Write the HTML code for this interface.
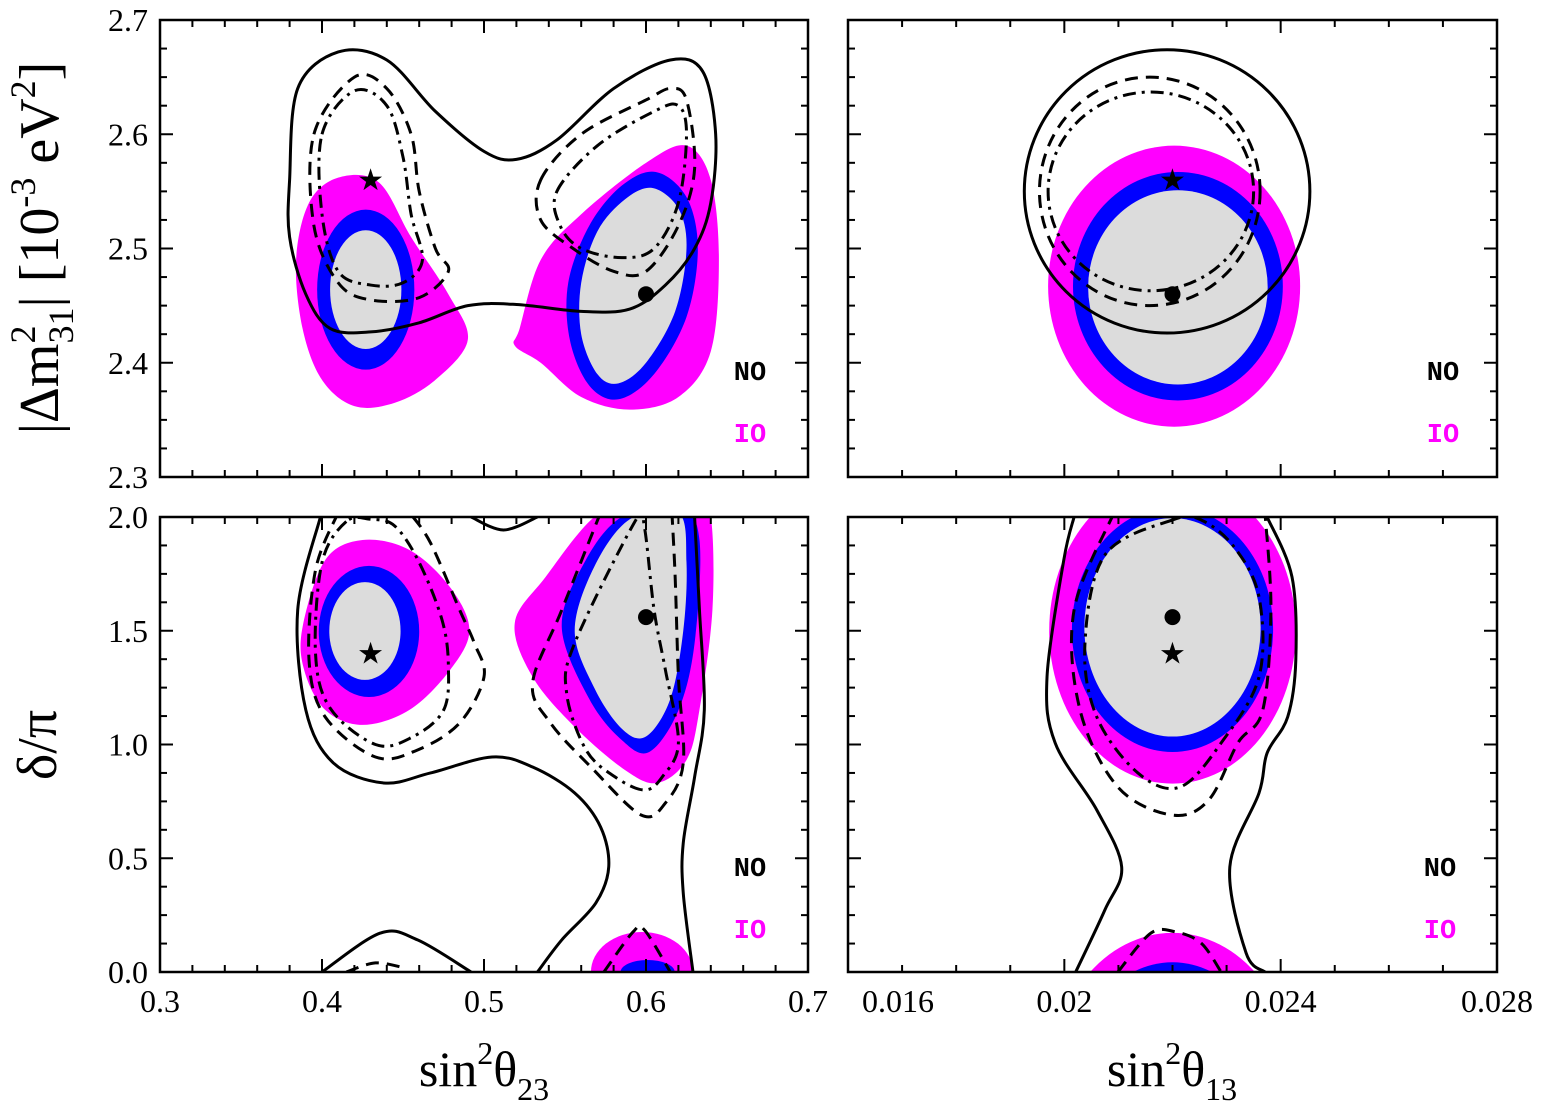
<!DOCTYPE html>
<html><head><meta charset="utf-8"><style>
html,body{margin:0;padding:0;background:#fff;overflow:hidden;width:1547px;height:1120px;}
svg{display:block;font-family:"Liberation Serif",serif;}
.lab{font-family:"Liberation Mono",monospace;font-weight:bold;font-size:27px;}
</style></head><body>
<svg id="chart" width="1547" height="1120" viewBox="0 0 1547 1120" xmlns="http://www.w3.org/2000/svg" overflow="hidden">
<g id="layer"></g>
<text transform="translate(58,248) rotate(-90)" text-anchor="middle" font-size="56">|Δm<tspan font-size="36" dy="-23">2</tspan><tspan font-size="36" dy="38" dx="-18">31</tspan><tspan dy="-15">| [10</tspan><tspan font-size="36" dy="-23">-3</tspan><tspan dy="23"> eV</tspan><tspan font-size="36" dy="-23">2</tspan><tspan dy="23">]</tspan></text>
<text transform="translate(56,745) rotate(-90)" text-anchor="middle" font-size="56">δ/π</text>
<text x="484" y="1086" text-anchor="middle" font-size="50">sin<tspan font-size="32" dy="-22">2</tspan><tspan dy="22">θ</tspan><tspan font-size="32" dy="14">23</tspan></text>
<text x="1172" y="1086" text-anchor="middle" font-size="50">sin<tspan font-size="32" dy="-22">2</tspan><tspan dy="22">θ</tspan><tspan font-size="32" dy="14">13</tspan></text>
</svg>
<script>
// ---- data (all in data units) ----
const tlMagL=[[0.392,2.54],[0.41,2.562],[0.435,2.558],[0.455,2.51],[0.478,2.46],[0.49,2.42],[0.47,2.385],[0.445,2.365],[0.42,2.362],[0.4,2.385],[0.388,2.43],[0.384,2.49]];
const tlBlueL=[0.427,2.464,0.030,0.070];
const tlGrayL=[0.427,2.464,0.022,0.052];
const tlMagR=[[0.522,2.43],[0.535,2.49],[0.56,2.53],[0.6,2.575],[0.625,2.59],[0.64,2.56],[0.645,2.49],[0.64,2.41],[0.62,2.37],[0.59,2.359],[0.56,2.37],[0.535,2.4],[0.519,2.415]];
const tlBlueR=[[0.606,2.567],[0.625,2.545],[0.632,2.5],[0.625,2.44],[0.605,2.39],[0.583,2.368],[0.565,2.38],[0.553,2.42],[0.552,2.47],[0.565,2.52],[0.585,2.555]];
const tlGrayR=[[0.604,2.553],[0.62,2.535],[0.625,2.5],[0.618,2.445],[0.6,2.4],[0.583,2.382],[0.57,2.39],[0.56,2.425],[0.56,2.47],[0.57,2.515],[0.587,2.543]];
const tlSolid=[[0.38,2.56],[0.385,2.64],[0.41,2.672],[0.44,2.665],[0.47,2.62],[0.5,2.585],[0.52,2.578],[0.545,2.595],[0.58,2.64],[0.615,2.665],[0.635,2.655],[0.643,2.6],[0.64,2.54],[0.63,2.5],[0.612,2.468],[0.59,2.447],[0.56,2.445],[0.52,2.451],[0.49,2.45],[0.46,2.435],[0.43,2.427],[0.405,2.43],[0.39,2.46],[0.38,2.51]];
const tlDashL=[[0.395,2.6],[0.42,2.65],[0.44,2.64],[0.455,2.6],[0.46,2.55],[0.47,2.5],[0.478,2.48],[0.46,2.457],[0.43,2.455],[0.41,2.47],[0.395,2.52]];
const tlDotL=[[0.4,2.6],[0.42,2.638],[0.44,2.625],[0.45,2.58],[0.455,2.53],[0.462,2.49],[0.45,2.47],[0.43,2.468],[0.41,2.48],[0.4,2.53]];
const tlDashR=[[0.535,2.56],[0.56,2.6],[0.6,2.63],[0.615,2.64],[0.625,2.63],[0.63,2.57],[0.62,2.52],[0.6,2.48],[0.58,2.48],[0.555,2.5],[0.535,2.525]];
const tlDotR=[[0.545,2.55],[0.57,2.59],[0.605,2.62],[0.62,2.625],[0.625,2.6],[0.62,2.54],[0.605,2.5],[0.585,2.492],[0.56,2.5],[0.547,2.52]];
const tlStar=[0.43,2.56], tlBest=[0.6,2.46];

const trMag=[0.02203,2.467,0.00233,0.123];
const trBlue=[0.0221,2.467,0.00194,0.1];
const trGray=[0.0221,2.466,0.00166,0.085];
const trSolid=[0.0219,2.55,0.00264,0.124];
const trDash=[0.02158,2.55,0.00204,0.1];
const trDot=[0.0216,2.55,0.0019,0.087];
const trStar=[0.022,2.56], trBest=[0.022,2.46];

const blMagL=[[0.388,1.516],[0.402,1.811],[0.425,1.899],[0.454,1.855],[0.479,1.692],[0.491,1.503],[0.479,1.327],[0.454,1.152],[0.425,1.086],[0.402,1.152],[0.389,1.327]];
const blBlueL=[0.429,1.497,0.031,0.288];
const blGrayL=[0.4265,1.499,0.022,0.215];
const blMagR=[[0.519,1.534],[0.538,1.736],[0.568,2.0],[0.6,2.12],[0.63,2.1],[0.64,2.0],[0.641,1.591],[0.633,1.152],[0.625,0.932],[0.607,0.831],[0.587,0.888],[0.556,1.077],[0.530,1.297]];
const blBlueR=[[0.548,1.516],[0.562,1.8],[0.585,2.0],[0.62,2.05],[0.633,1.9],[0.63,1.446],[0.62,1.15],[0.602,0.967],[0.585,1.02],[0.565,1.2]];
const blGrayR=[[0.556,1.5],[0.568,1.78],[0.59,1.99],[0.62,2.02],[0.625,1.8],[0.623,1.5],[0.615,1.2],[0.6,1.035],[0.585,1.07],[0.568,1.25]];
const blMagB=[0.5975,0,0.0315,0.176];
const blBlueB=[0.601,0,0.0167,0.053];
const blSolidA=[[0.399,2.0],[0.385,1.591],[0.390,1.152],[0.407,0.919],[0.438,0.831],[0.467,0.875],[0.505,0.945],[0.530,0.901],[0.556,0.787],[0.572,0.637],[0.577,0.462],[0.569,0.303],[0.548,0.141],[0.533,0]];
const blSolidB=[[0.630,2.0],[0.633,1.591],[0.636,1.152],[0.630,0.857],[0.623,0.567],[0.623,0.347],[0.629,0]];
const blSolidC=[[0.492,2.0],[0.512,1.943],[0.533,2.0]];
const blSolidD=[[0.4,0],[0.436,0.171],[0.459,0.141],[0.492,0]];
const blDashD=[[0.415,0],[0.433,0.04],[0.451,0.018]];
const blDashL=[[0.41,2.02],[0.396,1.767],[0.392,1.371],[0.402,1.121],[0.433,0.945],[0.459,0.976],[0.485,1.095],[0.5,1.297],[0.494,1.446],[0.485,1.591],[0.467,1.886],[0.454,2.02]];
const blDotL=[[0.415,1.98],[0.4,1.8],[0.396,1.4],[0.405,1.16],[0.433,1.0],[0.455,1.03],[0.475,1.15],[0.478,1.35],[0.474,1.55],[0.46,1.8],[0.445,1.96],[0.43,1.99]];
const blDashR=[[0.572,2.02],[0.548,1.591],[0.530,1.27],[0.541,1.095],[0.566,0.901],[0.597,0.69],[0.612,0.743],[0.623,0.919],[0.620,1.297],[0.618,1.736],[0.616,2.02]];
const blDotR=[[0.594,1.99],[0.556,1.446],[0.551,1.226],[0.563,0.976],[0.581,0.857],[0.599,0.8],[0.610,0.857],[0.620,1.007],[0.612,1.327],[0.605,1.591],[0.599,1.956]];
const blDashB=[[0.574,0],[0.592,0.176],[0.599,0.185],[0.615,0]];
const blStar=[0.43,1.4], blBest=[0.6,1.56];

const brMag=[0.022,1.50,0.00228,0.672];
const brBlue=[0.022,1.505,0.00186,0.538];
const brGray=[0.022,1.515,0.00163,0.48];
const brSolidL=[[0.02018,2.0],[0.01999,1.811],[0.01968,1.297],[0.01983,1.007],[0.0206,0.712],[0.02106,0.462],[0.02075,0.273],[0.02021,0]];
const brSolidR=[[0.02375,2.0],[0.02421,1.736],[0.02428,1.371],[0.02413,1.121],[0.02375,0.963],[0.0236,0.787],[0.02306,0.462],[0.02336,0.084],[0.02371,0]];
const brDash=[[0.02092,2.02],[0.02018,1.591],[0.02029,1.152],[0.02099,0.813],[0.02199,0.69],[0.02267,0.756],[0.02321,1.007],[0.02367,1.152],[0.02382,1.591],[0.02371,2.02]];
const brDot=[[0.022,1.987],[0.02075,1.833],[0.02038,1.437],[0.0206,1.121],[0.02136,0.875],[0.02214,0.813],[0.0229,1.007],[0.0236,1.297],[0.0236,1.648],[0.02314,1.868],[0.02253,1.987]];
const brDashB=[[0.02099,0],[0.0216,0.171],[0.02206,0.176],[0.02253,0.127],[0.0229,0]];
const brStar=[0.022,1.4], brBest=[0.022,1.56];

const tlXTicks=["0.3","0.4","0.5","0.6","0.7"];
const trXTicks=["0.016","0.02","0.024","0.028"];
const topYTicks=["2.3","2.4","2.5","2.6","2.7"];
const botYTicks=["0.0","0.5","1.0","1.5","2.0"];

// ---- rendering ----
const NS="http://www.w3.org/2000/svg";
const layer=document.getElementById('layer');
function mk(tag,attrs,parent){const e=document.createElementNS(NS,tag);for(const k in attrs)e.setAttribute(k,attrs[k]);(parent||layer).appendChild(e);return e;}
function panel(id,px0,px1,py0,py1,dx0,dx1,dy0,dy1){
  const p={px0,px1,py0,py1,sx:v=>px0+(v-dx0)/(dx1-dx0)*(px1-px0),sy:v=>py1-(v-dy0)/(dy1-dy0)*(py1-py0),dx0,dx1,dy0,dy1};
  const cp=mk('clipPath',{id:'clip-'+id});mk('rect',{x:px0,y:py0,width:px1-px0,height:py1-py0},cp);
  p.g=mk('g',{'clip-path':'url(#clip-'+id+')'});
  
  
  return p;
}
function smooth(pts,closed){
  const n=pts.length;let d='M'+pts[0][0]+','+pts[0][1];
  const P=i=>closed?pts[(i+n)%n]:pts[Math.max(0,Math.min(n-1,i))];
  const last=closed?n:n-1;
  for(let i=0;i<last;i++){const p0=P(i-1),p1=P(i),p2=P(i+1),p3=P(i+2);
    d+=' C'+(p1[0]+(p2[0]-p0[0])/6)+','+(p1[1]+(p2[1]-p0[1])/6)+' '+(p2[0]-(p3[0]-p1[0])/6)+','+(p2[1]-(p3[1]-p1[1])/6)+' '+p2[0]+','+p2[1];}
  return d+(closed?'Z':'');
}
const STY={mag:{fill:'#ff00ff',stroke:'none'},blue:{fill:'#0000ff',stroke:'none'},gray:{fill:'#dcdcdc',stroke:'none'},
 solid:{fill:'none',stroke:'#000','stroke-width':3},dash:{fill:'none',stroke:'#000','stroke-width':3,'stroke-dasharray':'13,8'},
 dot:{fill:'none',stroke:'#000','stroke-width':3,'stroke-dasharray':'13,6,3,6'}};
function curve(p,data,kind,closed,name){
  const pts=data.map(d=>[p.sx(d[0]),p.sy(d[1])]);
  const e=mk('path',Object.assign({d:smooth(pts,closed)},STY[kind]),p.g);
  
  
}
function ell(p,e,kind,name,shift){
  const el=mk('ellipse',Object.assign({cx:p.sx(e[0]),cy:p.sy(e[1]-(shift||0)),rx:Math.abs(p.sx(e[0]+e[2])-p.sx(e[0])),ry:Math.abs(p.sy(e[1]+e[3])-p.sy(e[1]))},STY[kind]),p.g);
  
  
}
function markers(p,star,best,pre){
  const s=mk('text',{x:p.sx(star[0]),y:p.sy(star[1])+10,'text-anchor':'middle','font-size':30,'font-family':'DejaVu Sans, sans-serif'},p.g);s.textContent='★';
  
  
  const c=mk('circle',{cx:p.sx(best[0]),cy:p.sy(best[1]),r:8,fill:'#000'},p.g);
  
  
}
function frame(p,pre,xMaj,xMin,yMaj,yMin,xLabels,yLabels,xl,yl){
  const r=mk('rect',{x:p.px0,y:p.py0,width:p.px1-p.px0,height:p.py1-p.py0,fill:'none',stroke:'#000','stroke-width':2.5});
  
  
  const eps=1e-9;
  for(let v=p.dx0;v<=p.dx1+eps;v+=xMin){const X=p.sx(v);const maj=Math.abs(Math.round((v-p.dx0)/xMaj)*xMaj-(v-p.dx0))<xMin/4;const L=maj?13:7;
    mk('line',{x1:X,x2:X,y1:p.py1,y2:p.py1-L,stroke:'#000','stroke-width':2});mk('line',{x1:X,x2:X,y1:p.py0,y2:p.py0+L,stroke:'#000','stroke-width':2});}
  for(let v=p.dy0;v<=p.dy1+eps;v+=yMin){const Y=p.sy(v);const maj=Math.abs(Math.round((v-p.dy0)/yMaj)*yMaj-(v-p.dy0))<yMin/4;const L=maj?13:7;
    mk('line',{x1:p.px0,x2:p.px0+L,y1:Y,y2:Y,stroke:'#000','stroke-width':2});mk('line',{x1:p.px1,x2:p.px1-L,y1:Y,y2:Y,stroke:'#000','stroke-width':2});}
  if(xl){xLabels.forEach((t,i)=>{let X=p.sx(p.dx0+i*xMaj);if(pre==='br'&&i===0)X+=50;
    const e=mk('text',{x:X,y:p.py1+40,'text-anchor':'middle','font-size':32});e.textContent=t;
    
    });}
  if(yl){yLabels.forEach((t,i)=>{const e=mk('text',{x:p.px0-12,y:p.sy(p.dy0+i*yMaj)+11,'text-anchor':'end','font-size':32});e.textContent=t;
    
    });}
}
function legend(p,xr,pre,yNO,yIO){
  const a=mk('text',{x:xr,y:yNO,'text-anchor':'middle',class:'lab',fill:'#000'});a.textContent='NO';
  
  
  const b=mk('text',{x:xr,y:yIO,'text-anchor':'middle',class:'lab',fill:'#ff00ff'});b.textContent='IO';
  
  
}

// Top-left
const TL=panel('tl',160,808,20,477,0.3,0.7,2.3,2.7);
curve(TL,tlMagL,'mag',true,'io-3sigma-left');
curve(TL,tlMagR,'mag',true,'io-3sigma-right');
ell(TL,tlBlueL,'blue','io-2sigma-left');
curve(TL,tlBlueR,'blue',true,'io-2sigma-right');
ell(TL,tlGrayL,'gray','io-1sigma-left');
curve(TL,tlGrayR,'gray',true,'io-1sigma-right');
curve(TL,tlSolid,'solid',true,'no-3sigma-contour');
curve(TL,tlDashL,'dash',true,'no-2sigma-left');
curve(TL,tlDotL,'dot',true,'no-1sigma-left');
curve(TL,tlDashR,'dash',true,'no-2sigma-right');
curve(TL,tlDotR,'dot',true,'no-1sigma-right');
markers(TL,tlStar,tlBest,'tl');
frame(TL,'tl',0.1,0.02,0.1,0.025,tlXTicks,topYTicks,false,true);
legend(TL,750,'tl',380,442);

// Top-right
const TR=panel('tr',848,1497,20,477,0.016,0.028,2.3,2.7);
ell(TR,trMag,'mag','io-3sigma');ell(TR,trBlue,'blue','io-2sigma');ell(TR,trGray,'gray','io-1sigma');
ell(TR,trSolid,'solid','no-3sigma');ell(TR,trDash,'dash','no-2sigma');ell(TR,trDot,'dot','no-1sigma');
markers(TR,trStar,trBest,'tr');
frame(TR,'tr',0.004,0.001,0.1,0.025,trXTicks,topYTicks,false,false);
legend(TR,1443,'tr',380,442);

// Bottom-left
const BL=panel('bl',160,808,517,972,0.3,0.7,0,2);
curve(BL,blMagL,'mag',true,'io-3sigma-left');
curve(BL,blMagR,'mag',true,'io-3sigma-right');
ell(BL,blMagB,'mag','io-3sigma-wrap');
ell(BL,blBlueL,'blue','io-2sigma-left');
curve(BL,blBlueR,'blue',true,'io-2sigma-right');
ell(BL,blBlueB,'blue','io-2sigma-wrap');
ell(BL,blGrayL,'gray','io-1sigma-left');
curve(BL,blGrayR,'gray',true,'io-1sigma-right');
curve(BL,blSolidA,'solid',false,'no-3sigma-a');
curve(BL,blSolidB,'solid',false,'no-3sigma-b');
curve(BL,blSolidC,'solid',false,'no-3sigma-c');
curve(BL,blSolidD,'solid',false,'no-3sigma-d');
curve(BL,blDashD,'dash',false,'no-2sigma-d');
curve(BL,blDashL,'dash',false,'no-2sigma-left');
curve(BL,blDotL,'dot',true,'no-1sigma-left');
curve(BL,blDashR,'dash',false,'no-2sigma-right');
curve(BL,blDotR,'dot',true,'no-1sigma-right');
curve(BL,blDashB,'dash',false,'no-2sigma-wrap');
markers(BL,blStar,blBest,'bl');
frame(BL,'bl',0.1,0.02,0.5,0.125,tlXTicks,botYTicks,true,true);
legend(BL,750,'bl',876,938);

// Bottom-right
const BR=panel('br',848,1497,517,972,0.016,0.028,0,2);
ell(BR,brMag,'mag','io-3sigma');ell(BR,brMag,'mag','io-3sigma-wrap',2);
ell(BR,brBlue,'blue','io-2sigma');ell(BR,brBlue,'blue','io-2sigma-wrap',2);
ell(BR,brGray,'gray','io-1sigma');
curve(BR,brSolidL,'solid',false,'no-3sigma-left');
curve(BR,brSolidR,'solid',false,'no-3sigma-right');
curve(BR,brDash,'dash',false,'no-2sigma');
curve(BR,brDot,'dot',true,'no-1sigma');
curve(BR,brDashB,'dash',false,'no-2sigma-wrap');
markers(BR,brStar,brBest,'br');
frame(BR,'br',0.004,0.001,0.5,0.125,trXTicks,botYTicks,true,false);
legend(BR,1440,'br',876,938);
</script>
</body></html>
